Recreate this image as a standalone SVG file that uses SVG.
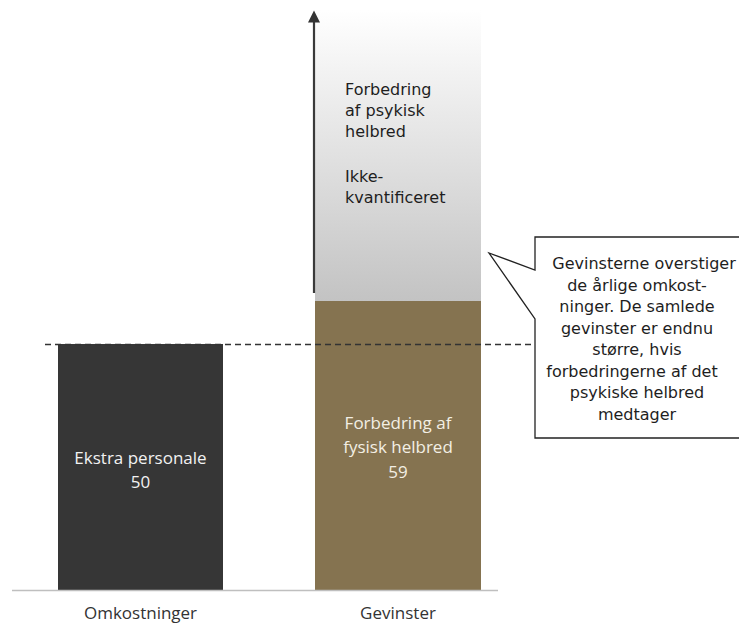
<svg xmlns="http://www.w3.org/2000/svg" width="739" height="626" viewBox="0 0 739 626">
<style>
.lbl{font-family:"Open Sans","Liberation Sans",sans-serif;font-size:17px;text-anchor:middle}
.tah{font-family:"DejaVu Sans","Liberation Sans",sans-serif;font-size:16px;fill:#1e1e1e}
</style>
<defs>
<linearGradient id="g" x1="0" y1="0" x2="0" y2="1">
<stop offset="0" stop-color="#ffffff"/>
<stop offset="1" stop-color="#c3c3c3"/>
</linearGradient>
<marker id="ah" viewBox="0 0 10 10" refX="2" refY="5" markerWidth="14" markerHeight="12" markerUnits="userSpaceOnUse" orient="auto">
<path d="M0,0 L10,5 L0,10 z" fill="#333"/>
</marker>
</defs>
<rect width="739" height="626" fill="#fff"/>
<g id="psykisk">
<rect x="315" y="10" width="166" height="291" fill="url(#g)"/>
<text class="tah" x="345"><tspan x="345" y="95">Forbedring</tspan><tspan x="345" y="116">af psykisk</tspan><tspan x="345" y="137">helbred</tspan><tspan x="345" y="182">Ikke-</tspan><tspan x="345" y="203">kvantificeret</tspan></text>
</g>
<g id="omkostninger">
<rect x="58" y="344" width="165" height="246" fill="#363636"/>
<text class="lbl" fill="#f2f2f2"><tspan x="140.5" y="464">Ekstra personale</tspan><tspan x="140.5" y="488">50</tspan></text>
</g>
<g id="fysisk">
<rect x="315" y="301" width="166" height="289" fill="#857350"/>
<text class="lbl" fill="#f3efe4"><tspan x="398" y="429">Forbedring af</tspan><tspan x="398" y="453">fysisk helbred</tspan><tspan x="398" y="478">59</tspan></text>
</g>
<g id="callout">
<path d="M535,237 L750,237 L750,438 L535,438 L535,319 L489,253 L535,270 Z" fill="#fff" stroke="#222" stroke-width="1.3"/>
<text class="tah" text-anchor="middle"><tspan x="644" y="269">Gevinsterne overstiger</tspan><tspan x="637" y="290.5">de årlige omkost-</tspan><tspan x="637" y="312">ninger. De samlede</tspan><tspan x="637" y="333.5">gevinster er endnu</tspan><tspan x="637" y="355">større, hvis</tspan><tspan x="632" y="376.5">forbedringerne af det</tspan><tspan x="637" y="398">psykiske helbred</tspan><tspan x="637" y="419.5">medtager</tspan></text>
</g>
<g id="connectors">
<line x1="12" y1="590.5" x2="498" y2="590.5" stroke="#bfbfbf" stroke-width="1.5"/>
<line x1="45" y1="344.5" x2="535" y2="344.5" stroke="#333" stroke-width="1.5" stroke-dasharray="6,4"/>
<line x1="314" y1="293" x2="314" y2="20" stroke="#3a3a3a" stroke-width="2.2" marker-end="url(#ah)"/>
</g>
<g id="axis-labels">
<text class="lbl" fill="#333" x="140.5" y="619">Omkostninger</text>
<text class="lbl" fill="#333" x="398" y="619">Gevinster</text>
</g>
</svg>
